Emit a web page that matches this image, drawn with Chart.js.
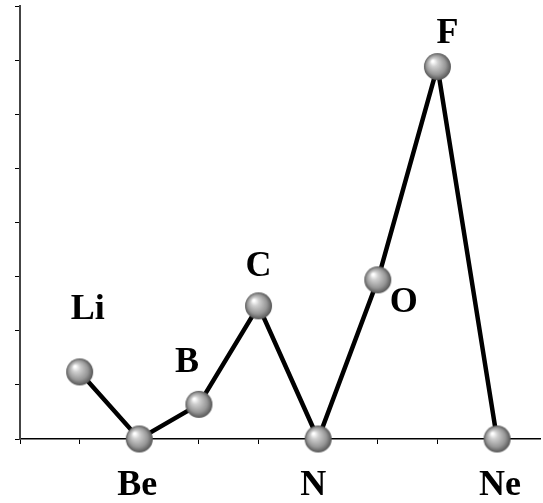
<!DOCTYPE html>
<html>
<head>
<meta charset="utf-8">
<script src="https://cdn.jsdelivr.net/npm/chart.js@4/dist/chart.umd.min.js"></script>
<style>
  html, body { margin: 0; padding: 0; background: #fff; }
  #wrap { width: 543px; height: 503px; }
</style>
</head>
<body>
<div id="wrap"><canvas id="chart"></canvas></div>
<script>
const elements = ["Li", "Be", "B", "C", "N", "O", "F", "Ne"];
const affinity = [62, 0, 32, 123, 0, 147, 344, 0];
// label offset from its point, in px
const labelDx = [8, -2, -12, 0, -5, 26, 10, 3];
const labelDy = [-62, 47, -42, -39, 47, 23, -33, 47];

// shaded sphere marker
function makeSphere(r) {
  const c = document.createElement("canvas");
  c.width = c.height = r * 2 + 2;
  const g = c.getContext("2d");
  const cx = r + 1, cy = r + 1;
  const grad = g.createRadialGradient(cx - r * 0.35, cy - r * 0.4, 1, cx, cy, r);
  grad.addColorStop(0, "#ffffff");
  grad.addColorStop(0.25, "#cfcfcf");
  grad.addColorStop(0.7, "#969696");
  grad.addColorStop(1, "#555555");
  g.fillStyle = grad;
  g.beginPath();
  g.arc(cx, cy, r, 0, Math.PI * 2);
  g.fill();
  return c;
}
const sphere = makeSphere(13.5);

const elementLabels = {
  id: "elementLabels",
  afterDatasetsDraw(chart) {
    const ctx = chart.ctx;
    const meta = chart.getDatasetMeta(0);
    ctx.save();
    ctx.font = "bold 36px 'Liberation Serif', 'Times New Roman', serif";
    ctx.fillStyle = "#000";
    ctx.textAlign = "center";
    ctx.textBaseline = "middle";
    meta.data.forEach((pt, i) => {
      ctx.fillText(elements[i], pt.x + labelDx[i], pt.y + labelDy[i]);
    });
    ctx.restore();
  }
};

new Chart(document.getElementById("chart"), {
  type: "line",
  data: {
    datasets: [
      {
        data: affinity.map((v, i) => ({ x: i + 1, y: v })),
        borderColor: "#000",
        borderWidth: 4.5,
        tension: 0,
        pointStyle: sphere,
        pointRadius: 13,
        clip: false,
      },
    ],
  },
  options: {
    responsive: true,
    maintainAspectRatio: false,
    animation: false,
    layout: { autoPadding: false, padding: { left: 15, top: 6, right: 3, bottom: 59 } },
    plugins: { legend: { display: false }, tooltip: { enabled: false } },
    scales: {
      x: {
        type: "linear",
        min: 0,
        max: 8.72,
        ticks: { display: false, stepSize: 1 },
        afterBuildTicks(scale) {
          scale.ticks = [0, 1, 2, 3, 4, 5, 6, 7, 8].map((v) => ({ value: v }));
        },
        grid: { drawOnChartArea: false, tickLength: 5, color: "#000", lineWidth: 1 },
        border: { color: "#000", width: 1.5 },
      },
      y: {
        min: 0,
        max: 400,
        ticks: { display: false, stepSize: 50 },
        grid: { drawOnChartArea: false, tickLength: 5, color: "#000", lineWidth: 1 },
        border: { color: "#444", width: 2 },
      },
    },
  },
  plugins: [elementLabels],
});
</script>
</body>
</html>
